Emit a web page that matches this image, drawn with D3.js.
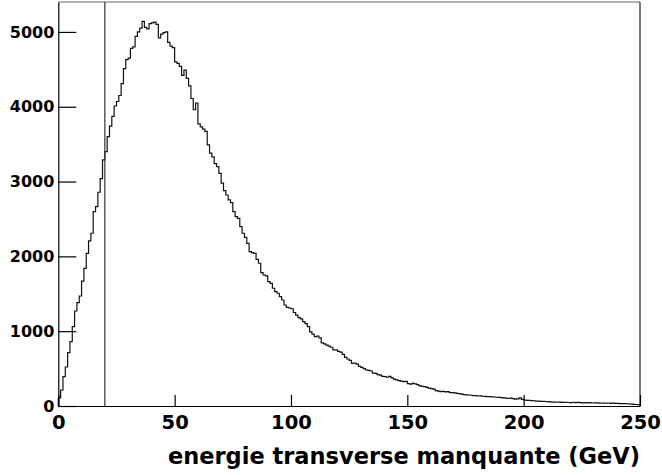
<!DOCTYPE html>
<html><head><meta charset="utf-8">
<script src="https://cdn.jsdelivr.net/npm/d3@7"></script>
<style>body{margin:0;background:#fff}</style>
</head><body><svg id="c" width="662" height="475" xmlns="http://www.w3.org/2000/svg"></svg>
<script>
// 1 GeV bins from 0 to 250 GeV
const binLow = 0;
const binWidth = 1;
const counts = [
 107,214,392,521,713,860,1060,1270,1381,1470,
 1670,1840,2040,2206,2309,2598,2665,2857,3040,3290,
 3400,3600,3740,3870,4010,4070,4150,4310,4510,4630,
 4650,4780,4800,4940,5000,5050,5140,5060,5040,5110,
 5120,5130,5100,4920,4970,4990,5000,4860,4810,4790,
 4600,4580,4540,4420,4490,4380,4280,4110,3960,4050,
 3770,3730,3700,3670,3490,3380,3330,3240,3200,3110,
 2980,2880,2820,2754,2718,2598,2531,2509,2397,2309,
 2255,2175,2063,2050,2041,1960,1908,1782,1751,1740,
 1662,1640,1574,1528,1507,1461,1417,1350,1319,1310,
 1300,1250,1216,1180,1165,1127,1100,1060,990,960,
 927,935,910,845,830,815,800,785,750,749,
 730,720,690,650,628,610,571,575,560,530,
 517,500,481,475,468,440,437,420,414,395,
 392,384,395,375,360,350,340,332,325,330,
 300,292,303,295,285,270,262,258,248,240,
 232,225,205,198,191,195,188,192,180,178,
 176,170,165,158,152,150,147,144,140,138,
 134,136,130,128,125,124,121,120,117,114,
 111,109,104,100,106,98,92,95,108,88,
 80,76,74,72,70,66,64,63,62,60,
 58,56,53,52,50,51,49,48,50,47,
 46,50,44,48,45,43,46,42,44,40,
 42,41,38,40,39,37,40,36,38,35,
 34,33,32,31,30,27,24,22,20,18
];
const xMajorTicks = [0,50,100,150,200,250];
const xMinorTicks = d3.range(0,251,10);
const yMajorTicks = [0,1000,2000,3000,4000,5000];
const yMinorTicks = d3.range(0,5401,200);
const cutValue = [20];
const xTitle = "energie transverse manquante (GeV)";
const xDomain = [0,250];
const yDomain = [0,5400];

const svg = d3.select("#c");
const x = d3.scaleLinear().domain(xDomain).range([58.3,640]);
const y = d3.scaleLinear().domain(yDomain).range([406,2]);
const FONT = "'DejaVu Sans', sans-serif";

// frame
svg.append("line").attr("x1",x(0)).attr("x2",x(250)).attr("y1",y(5400)).attr("y2",y(5400))
  .attr("stroke","#666").attr("stroke-width",1.2);
svg.append("line").attr("x1",x(250)).attr("x2",x(250)).attr("y1",y(5400)).attr("y2",y(0))
  .attr("stroke","#222").attr("stroke-width",1.2);

// histogram outline
const pts = [[binLow,0]];
counts.forEach((c,i)=>pts.push([binLow+i*binWidth,c]));
pts.push([binLow+counts.length*binWidth,counts[counts.length-1]]);
pts.push([binLow+counts.length*binWidth,0]);
const line = d3.line().x(d=>x(d[0])).y(d=>y(d[1])).curve(d3.curveStepAfter);
svg.append("path").attr("d",line(pts)).attr("fill","none").attr("stroke","#111").attr("stroke-width",1.2);

// cut line
svg.selectAll(".cut").data(cutValue).enter().append("line")
  .attr("x1",d=>x(d)).attr("x2",d=>x(d)).attr("y1",y(0)).attr("y2",y(5400))
  .attr("stroke","#333").attr("stroke-width",1.2);

// x axis
const gx = svg.append("g").attr("transform",`translate(0,${y(0)})`);
gx.call(d3.axisBottom(x).tickValues(xMinorTicks).tickSize(-6).tickSizeOuter(0).tickFormat(""));
gx.call(d3.axisBottom(x).tickValues(xMajorTicks).tickSize(-11).tickSizeOuter(0).tickPadding(9.4).tickFormat(d3.format("d")));
gx.selectAll("text").attr("font-family",FONT).attr("font-weight","bold").attr("font-size",19.5).attr("fill","#000");
gx.selectAll("path,line").attr("stroke","#000").attr("stroke-width",1.2);

// y axis
const gy = svg.append("g").attr("transform",`translate(${x(0)},0)`);
gy.call(d3.axisLeft(y).tickValues(yMinorTicks).tickSize(-9).tickSizeOuter(0).tickFormat(""));
gy.call(d3.axisLeft(y).tickValues(yMajorTicks).tickSize(-18).tickSizeOuter(0).tickPadding(4).tickFormat(d3.format("d")));
gy.selectAll("text").attr("font-family",FONT).attr("font-weight","bold").attr("font-size",16).attr("fill","#000");
gy.selectAll("path,line").attr("stroke","#000").attr("stroke-width",1.2);

// x title
svg.append("text").attr("x",x(250)).attr("y",464).attr("text-anchor","end")
  .attr("font-family",FONT).attr("font-weight","bold").attr("font-size",22.5).attr("fill","#000")
  .text(xTitle);
</script></body></html>
